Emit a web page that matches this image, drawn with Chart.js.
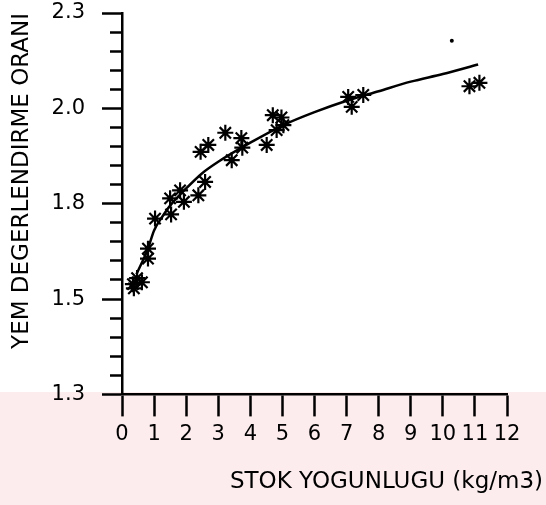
<!DOCTYPE html>
<html>
<head>
<meta charset="utf-8">
<script src="https://cdn.jsdelivr.net/npm/chart.js@4/dist/chart.umd.min.js"></script>
<style>
  html, body { margin: 0; padding: 0; background: #fff; }
  #wrap {
    width: 546px;
    height: 505px;
    background: linear-gradient(to bottom, #fff 0, #fff 392px, #fcecee 392px, #fcecee 100%);
  }
  canvas { display: block; }
</style>
</head>
<body>
<div id="wrap"><canvas id="chart" width="546" height="505"></canvas></div>
<script>
// measured points (stock density, feed conversion ratio)
var stockDensity = [0.34, 0.47, 0.62, 0.37, 0.81, 0.81, 1.03, 1.50, 1.53, 1.81, 1.93,
  2.38, 2.59, 2.45, 2.69, 3.22, 3.42, 3.72, 3.75, 4.51, 4.70, 4.97, 4.82, 5.03,
  7.05, 7.16, 7.52, 10.83, 11.14];
var feedRatio = [1.539, 1.555, 1.544, 1.528, 1.632, 1.606, 1.711, 1.764, 1.722, 1.785, 1.755,
  1.772, 1.807, 1.886, 1.904, 1.936, 1.864, 1.922, 1.897, 1.904, 1.982, 1.976, 1.943, 1.956,
  2.030, 2.004, 2.035, 2.058, 2.067];

// fitted curve
var curveX = [0.45, 0.8, 1.0, 1.25, 1.5, 2, 2.5, 3, 4, 5, 6, 7, 8, 9, 10, 11.1];
var curveY = [1.565, 1.63, 1.68, 1.715, 1.745, 1.79, 1.83, 1.86, 1.91, 1.955, 1.99, 2.02, 2.045, 2.07, 2.09, 2.115];

// lone dot above the curve
var dotX = [10.28];
var dotY = [2.177];

var yTickValues = [1.25, 1.5, 1.75, 2.0, 2.25];
var yTickLabels = ['1.3', '1.5', '1.8', '2.0', '2.3'];
var xTickLabels = ['0', '1', '2', '3', '4', '5', '6', '7', '8', '9', '10', '11', '12'];

var FONT = 'DejaVu Sans';

function toPoints(xs, ys) {
  return xs.map(function(x, i) { return {x: x, y: ys[i]}; });
}

function majorIndex(v) {
  return yTickValues.findIndex(function(t) { return Math.abs(t - v) < 1e-6; });
}

var ctx = document.getElementById('chart').getContext('2d');

new Chart(ctx, {
  type: 'scatter',
  data: {
    datasets: [{
      data: toPoints(curveX, curveY),
      showLine: true,
      borderColor: '#000',
      borderWidth: 2.5,
      pointRadius: 0,
      cubicInterpolationMode: 'monotone',
    }, {
      data: toPoints(stockDensity, feedRatio),
      pointStyle: 'star',
      pointRadius: 8,
      borderColor: '#000',
      backgroundColor: '#000',
      borderWidth: 2.2,
    }, {
      data: toPoints(dotX, dotY),
      pointStyle: 'circle',
      pointRadius: 2,
      borderWidth: 0,
      backgroundColor: '#000',
    }],
  },
  options: {
    responsive: false,
    animation: false,
    layout: {padding: {top: 0, right: 3, left: 0, bottom: 0}},
    plugins: {
      legend: {display: false},
      tooltip: {enabled: false},
      title: {
        display: true,
        position: 'bottom',
        align: 'end',
        text: 'STOK YOGUNLUGU (kg/m3)',
        color: '#000',
        font: {family: FONT, size: 23, weight: 'normal'},
        padding: {top: 4, bottom: 9},
      },
    },
    scales: {
      x: {
        type: 'linear',
        min: 0,
        max: 12,
        afterFit: function(scale) { scale.height = 70; },
        ticks: {
          stepSize: 1,
          autoSkip: false,
          maxRotation: 0,
          minRotation: 0,
          color: '#000',
          padding: 6,
          font: {family: FONT, size: 21},
          callback: function(v) { return xTickLabels[v]; },
        },
        grid: {drawOnChartArea: false, tickLength: 22, tickWidth: 2.5, tickColor: '#000'},
        border: {color: '#000', width: 2.5},
      },
      y: {
        type: 'linear',
        min: 1.25,
        max: 2.25,
        afterFit: function(scale) {
          scale.width = 122;
          scale.paddingTop = 13;
          scale.paddingBottom = 0;
        },
        ticks: {
          stepSize: 0.05,
          autoSkip: false,
          color: '#000',
          padding: 17,
          font: {family: FONT, size: 21},
          callback: function(v) {
            var i = majorIndex(v);
            return i < 0 ? '' : yTickLabels[i];
          },
        },
        grid: {
          drawOnChartArea: false,
          tickLength: 20,
          tickWidth: 2.5,
          tickColor: '#000',
          tickBorderDash: function(c) {
            return majorIndex(c.tick.value) < 0 ? [0, 8, 12, 40] : [];
          },
        },
        border: {color: '#000', width: 2.5},
        title: {
          display: true,
          text: 'YEM DEGERLENDIRME ORANI',
          align: 'end',
          color: '#000',
          font: {family: FONT, size: 23, weight: 'normal'},
          padding: {top: 8, bottom: 0},
        },
      },
      spacer: {
        type: 'linear',
        position: 'right',
        afterFit: function(scale) { scale.width = 36; },
        ticks: {display: false},
        grid: {display: false},
        border: {display: false},
      },
    },
  },
});
</script>
</body>
</html>
